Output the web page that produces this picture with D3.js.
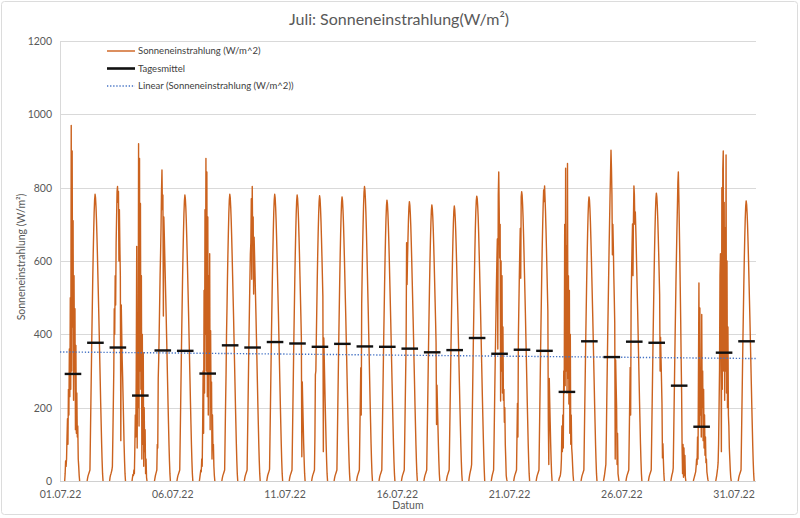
<!DOCTYPE html>
<html>
<head>
<meta charset="utf-8">
<script src="https://cdn.jsdelivr.net/npm/d3@7"></script>
<style>
  html, body { margin: 0; padding: 0; background: #fff; }
  svg { display: block; font-family: Lato, "Open Sans", sans-serif; }
</style>
</head>
<body>
<svg id="chart" width="800" height="518"></svg>
<script>
// ---------------- DATA ----------------
const chartTitle = "Juli: Sonneneinstrahlung(W/m²)";
const yAxisTitle = "Sonneneinstrahlung (W/m²)";
const xAxisTitle = "Datum";
const seriesNames = ["Sonneneinstrahlung (W/m^2)", "Tagesmittel", "Linear (Sonneneinstrahlung (W/m^2))"];

const dayLabels = ["01.07.22","02.07.22","03.07.22","04.07.22","05.07.22","06.07.22","07.07.22","08.07.22",
  "09.07.22","10.07.22","11.07.22","12.07.22","13.07.22","14.07.22","15.07.22","16.07.22","17.07.22",
  "18.07.22","19.07.22","20.07.22","21.07.22","22.07.22","23.07.22","24.07.22","25.07.22","26.07.22",
  "27.07.22","28.07.22","29.07.22","30.07.22","31.07.22"];
const xTickLabels = ["01.07.22","06.07.22","11.07.22","16.07.22","21.07.22","26.07.22","31.07.22"];
const xEndLabel = "01.08.22";
const yTicks = [0, 200, 400, 600, 800, 1000, 1200];

// sample times within each day (hours), half-hourly
const sampleHours = [5,5.5,6,6.5,7,7.5,8,8.5,9,9.5,10,10.5,11,11.5,12,12.5,13,13.5,14,14.5,
  15,15.5,16,16.5,17,17.5,18,18.5,19,19.5,20,20.5,21,21.5,22];

// irradiance (W/m^2) per day at sampleHours
const irradianceByDay = [
  [0,20,55,40,60,120,170,100,250,180,360,230,500,250,970,300,900,420,710,220,560,300,470,140,370,130,240,120,150,60,40,15,0,0,0],
  [0,8,14,18,22,26,30,120,210,300,390,470,550,620,680,732,767,782,772,747,712,667,617,562,507,452,392,332,272,212,157,102,56,20,0],
  [0,10,16,20,25,30,40,120,210,300,470,400,560,480,650,720,790,803,760,790,600,740,640,560,110,480,400,330,280,220,160,100,55,20,0],
  [0,10,18,15,30,20,90,180,120,300,640,90,420,200,920,150,880,300,757,250,560,60,400,100,350,40,200,80,140,20,60,10,0,0,0],
  [0,8,15,20,25,30,100,90,280,330,400,480,560,620,690,790,848,740,780,450,720,670,615,560,505,450,390,330,270,210,155,100,55,20,0],
  [0,8,14,18,22,26,30,120,210,300,390,470,550,620,680,730,765,780,770,745,710,665,615,560,505,450,390,330,270,210,155,100,55,20,0],
  [0,10,20,30,25,60,40,150,300,130,520,240,740,400,880,300,843,230,720,180,560,290,620,140,410,200,270,60,180,90,100,40,15,0,0],
  [0,8,14,18,22,26,30,120,210,290,400,470,550,620,680,732,767,782,772,747,712,667,617,562,507,452,392,332,272,212,157,102,56,20,0],
  [0,8,14,18,22,26,30,120,210,300,390,470,550,620,650,770,550,803,650,720,510,665,615,560,505,450,390,330,270,210,155,100,55,20,0],
  [0,8,15,19,23,27,32,122,212,302,392,472,552,622,682,732,767,782,772,747,712,667,617,562,507,452,392,332,272,212,157,102,56,20,0],
  [0,8,14,18,22,26,30,120,210,300,390,470,550,620,680,730,765,780,770,745,710,665,615,560,505,450,390,66,270,210,155,100,55,20,0],
  [0,8,14,18,22,26,30,120,290,300,390,470,550,620,680,728,763,778,768,743,708,663,613,558,503,80,390,330,270,210,155,100,55,20,0],
  [0,8,14,18,22,26,30,118,207,297,386,466,545,615,675,725,760,775,765,740,705,660,610,555,500,446,386,327,268,208,153,99,54,20,0],
  [0,8,14,18,22,26,30,124,216,309,180,484,566,638,700,752,788,803,793,767,731,685,633,577,520,463,402,340,278,216,160,103,57,21,0],
  [0,8,14,18,22,26,30,118,206,295,383,461,540,609,668,717,751,766,756,732,697,653,604,550,496,442,383,324,265,206,152,98,54,20,0],
  [0,8,14,18,22,26,30,117,205,293,381,650,536,606,664,713,747,762,752,728,694,650,601,547,493,440,381,322,264,205,151,98,54,20,0],
  [0,8,14,18,22,26,30,116,203,290,377,454,531,599,657,705,739,753,743,720,686,642,594,541,488,435,377,154,261,203,150,97,53,19,0],
  [0,8,14,18,22,26,30,115,202,288,375,452,529,596,654,702,736,750,740,717,683,640,592,538,486,433,375,317,260,202,149,96,53,19,0],
  [0,10,18,24,30,36,45,140,230,320,405,485,560,630,690,735,765,777,770,750,720,680,630,580,525,470,410,350,290,230,175,120,70,30,0],
  [0,8,15,20,25,30,110,200,290,370,450,530,600,660,360,780,843,744,608,700,218,600,300,560,240,420,220,250,160,200,100,60,15,5,0],
  [0,8,14,18,22,26,30,121,212,120,394,476,556,628,689,553,775,789,780,755,719,674,623,567,512,456,395,334,274,213,157,101,56,20,0],
  [0,8,14,18,22,26,30,124,217,310,402,485,567,640,701,754,794,762,805,770,734,687,635,578,521,464,163,45,280,217,160,103,57,21,0],
  [0,5,10,12,18,30,60,150,80,180,90,300,240,700,260,853,300,640,240,866,280,560,210,520,130,400,100,180,90,70,40,15,0,0,0],
  [0,8,14,18,22,26,30,119,209,298,387,467,546,616,676,726,761,775,766,741,706,661,612,557,502,448,388,328,269,209,154,99,55,20,0],
  [0,8,15,25,35,45,120,220,310,400,480,560,640,710,780,840,902,853,780,617,700,640,560,500,430,60,330,260,200,45,130,20,10,0,0],
  [0,8,14,18,22,26,30,124,217,310,180,485,567,640,701,560,716,805,780,700,734,687,635,578,521,464,402,340,278,217,160,103,57,21,0],
  [0,8,14,18,22,26,30,121,211,302,392,473,553,624,684,734,770,785,775,750,714,669,619,563,508,300,392,332,272,211,63,102,56,20,0],
  [0,8,15,20,25,35,120,210,300,390,470,550,620,690,750,816,843,780,700,620,530,440,330,240,90,20,100,10,90,15,70,10,0,0,0],
  [0,5,10,15,20,25,40,60,45,120,60,300,540,150,472,180,300,120,454,200,300,110,250,90,180,70,120,50,60,25,15,5,0,0,0],
  [0,8,15,25,35,50,100,200,300,560,620,380,80,800,250,850,900,300,760,220,690,300,889,240,600,200,420,180,150,90,60,30,10,0,0],
  [0,8,14,18,22,26,30,118,206,294,382,460,539,608,666,716,750,764,754,730,696,652,603,549,495,441,382,323,265,206,152,98,54,20,0]
];

// daily mean (Tagesmittel) W/m^2
const dailyMean = [292,377,364,233,356,355,293,370,364,379,375,366,374,367,366,361,351,357,390,347,358,355,243,381,338,380,377,260,148,350,381];

// linear trend line values at start and end of the month
const trendValues = [352, 334];

// ---------------- CHART ----------------
const svg = d3.select("#chart");
const W = 800, H = 518;
const margin = { left: 60, right: 44, top: 41, bottom: 37 };
const parse = d3.utcParse("%d.%m.%y");
const hourMs = 3600 * 1000;

const x = d3.scaleUtc()
  .domain([parse(dayLabels[0]), parse(xEndLabel)])
  .range([margin.left, W - margin.right]);
const y = d3.scaleLinear()
  .domain([yTicks[0], yTicks[yTicks.length - 1]])
  .range([H - margin.bottom, margin.top]);

const textColor = "#595959";

// outer border
svg.append("rect")
  .attr("x", 1.5).attr("y", 1.5).attr("width", W - 4).attr("height", H - 5)
  .attr("rx", 3).attr("fill", "#fff").attr("stroke", "#DCDCDC").attr("stroke-width", 1);

// gridlines
svg.append("g")
  .selectAll("line").data(yTicks.filter(t => t > 0)).join("line")
  .attr("x1", x.range()[0]).attr("x2", x.range()[1])
  .attr("y1", d => Math.round(y(d)) + 0.5).attr("y2", d => Math.round(y(d)) + 0.5)
  .attr("stroke", "#D9D9D9").attr("stroke-width", 1);

// y axis line
svg.append("line")
  .attr("x1", margin.left + 0.5).attr("x2", margin.left + 0.5)
  .attr("y1", y.range()[1]).attr("y2", y.range()[0])
  .attr("stroke", "#D9D9D9");

// y tick labels via d3 axis
const yAxis = d3.axisLeft(y).tickValues(yTicks).tickSize(0).tickPadding(8).tickFormat(d3.format("d"));
const gy = svg.append("g").attr("transform", `translate(${margin.left},0)`).call(yAxis);
gy.select(".domain").remove();
gy.selectAll("text").attr("fill", textColor).attr("font-size", 10.5).attr("font-family", "Lato, sans-serif");

// x tick labels
const xAxis = d3.axisBottom(x)
  .tickValues(xTickLabels.map(parse))
  .tickSize(0).tickPadding(10)
  .tickFormat(d3.utcFormat("%d.%m.%y"));
const gx = svg.append("g").attr("transform", `translate(0,${y(0)})`).call(xAxis);
gx.select(".domain").remove();
gx.selectAll("text").attr("fill", textColor).attr("font-size", 10.5).attr("font-family", "Lato, sans-serif");

// irradiance series: one path per day
const line = d3.line()
  .defined((d, i, arr) => d.v > 0 || (arr[i - 1] && arr[i - 1].v > 0) || (arr[i + 1] && arr[i + 1].v > 0))
  .x(d => x(d.t)).y(d => y(d.v));

const dayData = irradianceByDay.map((vals, di) => {
  const base = parse(dayLabels[di]).getTime();
  return vals.map((v, i) => ({ t: new Date(base + sampleHours[i] * hourMs), v }));
});

svg.append("g")
  .selectAll("path").data(dayData).join("path")
  .attr("d", line)
  .attr("fill", "none").attr("stroke", "#CB621E").attr("stroke-width", 1.4)
  .attr("stroke-linejoin", "round");

// baseline (0 axis)
svg.append("line")
  .attr("x1", x.range()[0]).attr("x2", x.range()[1])
  .attr("y1", Math.round(y(0)) + 0.5).attr("y2", Math.round(y(0)) + 0.5)
  .attr("stroke", "#D0D0D0").attr("stroke-width", 1);

// linear trend
svg.append("line")
  .attr("x1", x(x.domain()[0])).attr("x2", x(x.domain()[1]))
  .attr("y1", y(trendValues[0])).attr("y2", y(trendValues[1]))
  .attr("stroke", "#4472C4").attr("stroke-width", 1.4)
  .attr("stroke-dasharray", "1.3,1.8");

// daily means
const meanStartH = 5, meanEndH = 22.75;
svg.append("g")
  .selectAll("line").data(dailyMean).join("line")
  .attr("x1", (d, i) => x(new Date(parse(dayLabels[i]).getTime() + meanStartH * hourMs)))
  .attr("x2", (d, i) => x(new Date(parse(dayLabels[i]).getTime() + meanEndH * hourMs)))
  .attr("y1", d => y(d)).attr("y2", d => y(d))
  .attr("stroke", "#111").attr("stroke-width", 2.4);

// title
svg.append("text")
  .attr("x", 399).attr("y", 25).attr("text-anchor", "middle")
  .attr("font-size", 16).attr("fill", textColor).text(chartTitle);

// axis titles
svg.append("text")
  .attr("transform", `translate(25,${(y.range()[0] + y.range()[1]) / 2 - 4}) rotate(-90)`)
  .attr("text-anchor", "middle").attr("font-size", 10.5).attr("fill", textColor)
  .text(yAxisTitle);
svg.append("text")
  .attr("x", 408).attr("y", 509).attr("text-anchor", "middle")
  .attr("font-size", 10.5).attr("fill", textColor).text(xAxisTitle);

// legend
const legend = svg.append("g").attr("transform", "translate(107,51)");
const legendStyles = [
  { stroke: "#D06A2A", width: 1.5, dash: null },
  { stroke: "#111", width: 2.6, dash: null },
  { stroke: "#4472C4", width: 1.4, dash: "1.3,1.8" }
];
seriesNames.forEach((name, i) => {
  const g = legend.append("g").attr("transform", `translate(0,${i * 17.5})`);
  g.append("line").attr("x1", 0).attr("x2", 28).attr("y1", 0).attr("y2", 0)
    .attr("stroke", legendStyles[i].stroke).attr("stroke-width", legendStyles[i].width)
    .attr("stroke-dasharray", legendStyles[i].dash);
  g.append("text").attr("x", 31).attr("y", 0).attr("dy", "0.35em")
    .attr("font-size", 9.5).attr("fill", "#404040").text(name);
});
</script>
</body>
</html>
